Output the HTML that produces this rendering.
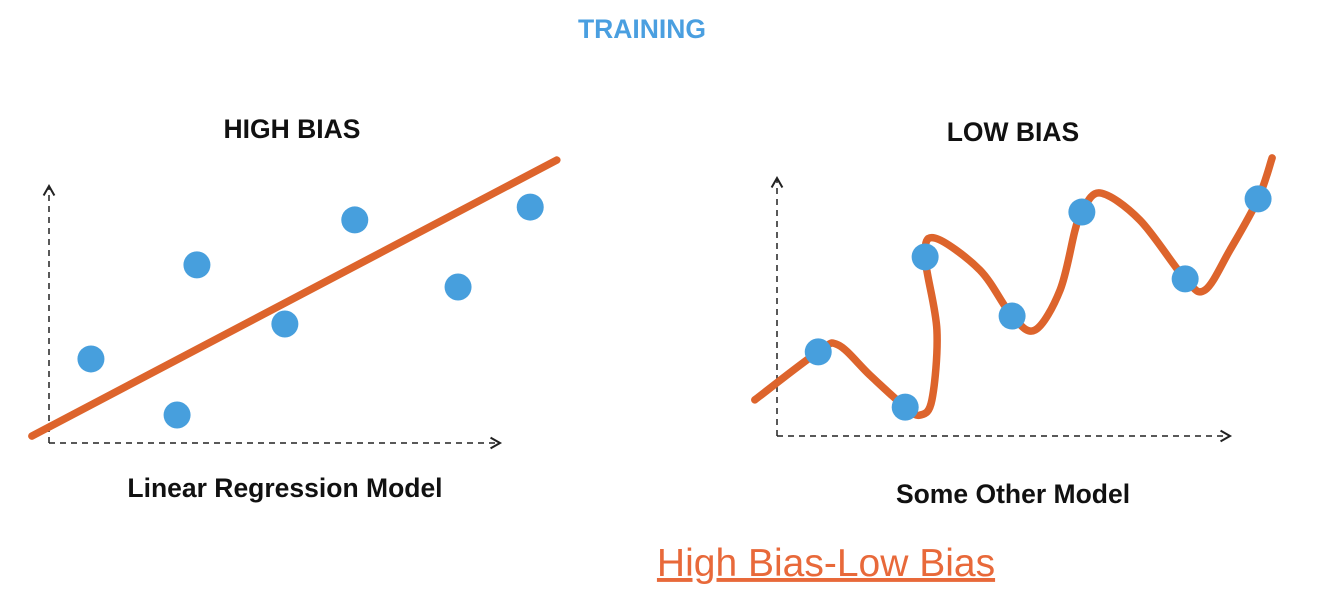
<!DOCTYPE html>
<html><head><meta charset="utf-8"><style>
body{margin:0;width:1330px;height:604px;background:#fff;overflow:hidden;font-family:"Liberation Sans",sans-serif}
svg{position:absolute;left:0;top:0}
</style></head><body>
<svg id="s" width="1330" height="604">
<defs><marker id="ar" viewBox="0 0 10 10" refX="8" refY="5" markerWidth="9" markerHeight="9" orient="auto"><path d="M1,1 L8,5 L1,9" fill="none" stroke="#222" stroke-width="1.5"/></marker></defs>
<text x="642" y="38" text-anchor="middle" font-size="26.5" font-weight="bold" fill="#4A9FE0">TRAINING</text>
<text x="292" y="138" text-anchor="middle" font-size="26.5" font-weight="bold" fill="#111">HIGH BIAS</text>
<text x="1013" y="141" text-anchor="middle" font-size="26.5" font-weight="bold" fill="#111">LOW BIAS</text>
<text x="285" y="497" text-anchor="middle" font-size="26.5" font-weight="bold" fill="#111">Linear Regression Model</text>
<text x="1013" y="503" text-anchor="middle" font-size="26.5" font-weight="bold" fill="#111">Some Other Model</text>
<text x="826" y="576" text-anchor="middle" font-size="39" fill="#E8693A" text-decoration="underline">High Bias-Low Bias</text>
</svg>
<script>
const leftDotX=[9.3,28.4,32.8,52.3,67.8,90.7,106.7];
const leftDotY=[32.7,10.9,69.3,46.3,86.8,60.7,91.8];
const fitLineX=[-3.8,112.6];
const fitLineY=[2.7,110.1];
const rightDotX=[9.1,28.3,32.7,51.9,67.3,90.1,106.2];
const rightDotY=[32.6,11.2,69.4,46.5,86.8,60.9,91.9];
const curveX=[-4.9,9.1,13.5,20.5,28.3,31.6,34.2,35.3,32.7,34.9,44.8,51.9,57.0,62.5,65.8,67.3,71.3,80.1,90.1,94.5,100,106.2,109.3];
const curveY=[14.0,32.6,35.3,23.6,11.2,8.1,14.0,41.1,69.4,76.7,64.3,46.5,41.1,56.6,79.8,86.8,94.2,83.7,60.9,56.6,72.1,91.9,107.8];
const s=document.getElementById('s');
const NS='http://www.w3.org/2000/svg';
function mk(t,a){const e=document.createElementNS(NS,t);for(const k in a)e.setAttribute(k,a[k]);s.appendChild(e);return e;}
function panel(x0,y0,x1,y1){return {x:v=>x0+(x1-x0)*v/100,y:v=>y0-(y0-y1)*v/100,x0,y0,x1,y1};}
const L=panel(49,443,500,186), R=panel(777,436,1230,178);
[[L,'left'],[R,'right']].forEach(([P,n])=>{
 let a=mk('line',{x1:P.x0,y1:P.y0,x2:P.x0,y2:P.y1,stroke:'#222','stroke-width':1.5,'stroke-dasharray':'6,5','marker-end':'url(#ar)'});
 
 
 let b=mk('line',{x1:P.x0,y1:P.y0,x2:P.x1,y2:P.y0,stroke:'#222','stroke-width':1.5,'stroke-dasharray':'6,5','marker-end':'url(#ar)'});
 
 
});
const fl=mk('line',{x1:L.x(fitLineX[0]),y1:L.y(fitLineY[0]),x2:L.x(fitLineX[1]),y2:L.y(fitLineY[1]),stroke:'#DD642C','stroke-width':7.5,'stroke-linecap':'round'});


const pts=curveX.map((v,i)=>[R.x(v),R.y(curveY[i])]);
let d='M'+pts[0][0]+','+pts[0][1];
for(let i=0;i<pts.length-1;i++){const p0=pts[Math.max(i-1,0)],p1=pts[i],p2=pts[i+1],p3=pts[Math.min(i+2,pts.length-1)];
 d+=` C${p1[0]+(p2[0]-p0[0])/6},${p1[1]+(p2[1]-p0[1])/6} ${p2[0]-(p3[0]-p1[0])/6},${p2[1]-(p3[1]-p1[1])/6} ${p2[0]},${p2[1]}`;}
const cv=mk('path',{d:d,fill:'none',stroke:'#DD642C','stroke-width':7.5,'stroke-linecap':'round','stroke-linejoin':'round'});


leftDotX.forEach((v,i)=>{const c=mk('circle',{cx:L.x(v),cy:L.y(leftDotY[i]),r:13.5,fill:'#479FDD'});
 
 });
rightDotX.forEach((v,i)=>{const c=mk('circle',{cx:R.x(v),cy:R.y(rightDotY[i]),r:13.5,fill:'#479FDD'});
 
 });
</script>
</body></html>
